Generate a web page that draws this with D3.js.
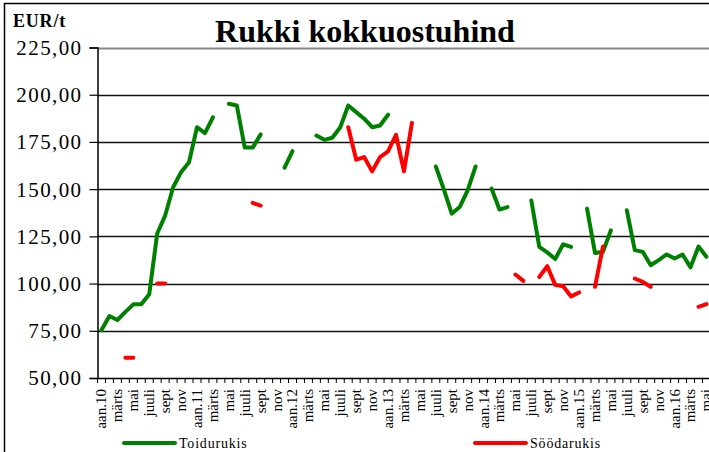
<!DOCTYPE html>
<html>
<head>
<meta charset="utf-8">
<script src="https://cdn.jsdelivr.net/npm/d3@7"></script>
<style>
  html, body { margin: 0; padding: 0; background: #fff; }
  svg { display: block; }
</style>
</head>
<body>
<script>
// ---- data ----
const monthNames = ["jaan", "veebr", "märts", "apr", "mai", "juuni", "juuli", "aug", "sept", "okt", "nov", "dets"];
const years = ["10", "11", "12", "13", "14", "15", "16"];
const categories = [];
years.forEach(yr => monthNames.forEach((m, k) => categories.push(k === 0 ? m + "." + yr : m)));
categories.splice(77); // visible months: jaan.10 … mai.16

const toidurukis = [
  75.4, 82.8, 80.7, 85.0, 89.0, 89.0, 94.4, 126.5, 136.0, 151.0, 159.0, 164.3,
  182.8, 179.7, 188.0, null, 195.2, 194.3, 172.0, 172.0, 179.0, null, null, 161.4,
  170.1, null, null, 178.4, 176.1, 177.2, 182.8, 194.3, 190.8, 187.3, 182.8, 183.7,
  189.4, null, null, null, null, null, 162.0, 150.0, 137.0, 140.5, 149.4, 162.0,
  null, 150.3, 139.2, 140.5, null, null, 144.0, 119.4, 116.5, 113.0, 120.8, 119.4,
  null, 139.7, 116.2, 116.8, 128.2, null, 138.8, 117.7, 116.8, 109.7, 112.4, 115.4,
  113.3, 115.4, 108.6, 119.6, 114.2
];
const soodarukis = [
  null, null, null, 60.7, 60.7, null, null, 100.0, 100.0, null, null, null,
  null, null, null, null, null, null, null, 142.7, 141.3, null, null, null,
  null, null, null, null, null, null, null, 182.8, 165.6, 167.0, 159.4, 167.0,
  170.0, 178.8, 159.4, 185.1, null, null, null, null, null, null, null, null,
  null, null, null, null, 104.8, 101.4, null, 103.5, 109.2, 99.3, 98.6, 93.2,
  95.3, null, 98.3, 119.6, null, null, null, 102.7, 100.9, 98.3, null, null,
  null, null, null, 87.7, 89.1
];
const yTicks = [50, 75, 100, 125, 150, 175, 200, 225];
const seriesNames = ["Toidurukis", "Söödarukis"];
const seriesColors = ["#008000", "#ff0000"];

// ---- layout ----
const W = 709, H = 452;
const plotLeft = 97.5, plotTop = 47.5, plotBottom = 378;
const step = 7.96;

const svg = d3.select("body").append("svg").attr("width", W).attr("height", H);

// frame
svg.append("rect").attr("x", 4.5).attr("y", 3.5).attr("width", W + 20).attr("height", H + 20)
  .attr("fill", "none").attr("stroke", "#000").attr("stroke-width", 1.5);

const x = d3.scaleBand().domain(d3.range(categories.length))
  .range([plotLeft, plotLeft + categories.length * step]).padding(0);
const cx = i => x(i) + x.bandwidth() / 2;
const y = d3.scaleLinear().domain([50, 225]).range([plotBottom, plotTop]);

// gridlines
svg.append("g").selectAll("line").data(yTicks.filter(t => t > 50)).join("line")
  .attr("x1", plotLeft).attr("x2", W + 10)
  .attr("y1", d => Math.round(y(d)) + 0.5).attr("y2", d => Math.round(y(d)) + 0.5)
  .attr("stroke", d => d === 225 ? "#888" : "#111")
  .attr("stroke-width", d => d === 225 ? 2 : 1.5);

// y axis
const yAxis = d3.axisLeft(y).tickValues(yTicks).tickSize(8).tickPadding(7)
  .tickFormat(d => d3.format(".2f")(d).replace(".", ","));
const gy = svg.append("g").attr("transform", `translate(${plotLeft},0)`).call(yAxis);
gy.select(".domain").attr("stroke", "#000").attr("stroke-width", 1.5);
gy.selectAll(".tick line").attr("stroke", "#000").attr("stroke-width", 1.2);
gy.selectAll(".tick text")
  .attr("font-family", "'Liberation Serif', 'Times New Roman', serif")
  .attr("font-size", 21).attr("letter-spacing", 1.4).attr("fill", "#000").attr("dy", "0.33em");

// x axis
const clip = svg.append("defs").append("clipPath").attr("id", "xclip");
clip.append("rect").attr("x", 0).attr("y", -400).attr("width", W).attr("height", 451);

const xAxis = d3.axisBottom(x).tickSize(0).tickFormat(i => i % 2 === 0 ? categories[i] : "");
const gx = svg.append("g").attr("transform", `translate(0,${plotBottom})`).call(xAxis);
gx.select(".domain").attr("stroke", "#000").attr("stroke-width", 1.5);
gx.attr("clip-path", "url(#xclip)");
gx.selectAll(".tick text")
  .attr("font-family", "'Liberation Serif', 'Times New Roman', serif")
  .attr("font-size", 15).attr("fill", "#000")
  .attr("text-anchor", "end")
  .attr("transform", "rotate(-90)")
  .attr("x", -11).attr("y", 0).attr("dy", "0.33em");
// monthly boundary ticks
gx.append("g").selectAll("line").data(d3.range(categories.length + 1)).join("line")
  .attr("x1", i => plotLeft + i * step).attr("x2", i => plotLeft + i * step)
  .attr("y1", 0).attr("y2", 5).attr("stroke", "#000").attr("stroke-width", 1);

// lines
const line = d3.line().defined(d => d.v != null).x(d => cx(d.i)).y(d => y(d.v));
[toidurukis, soodarukis].forEach((arr, k) => {
  svg.append("path").datum(arr.map((v, i) => ({ i, v })))
    .attr("d", line).attr("fill", "none")
    .attr("stroke", seriesColors[k]).attr("stroke-width", 4)
    .attr("stroke-linejoin", "round").attr("stroke-linecap", "round");
});

// title
svg.append("text").attr("x", 365).attr("y", 42).attr("text-anchor", "middle")
  .attr("font-family", "'Liberation Serif', 'Times New Roman', serif")
  .attr("font-weight", "bold").attr("font-size", 32).text("Rukki kokkuostuhind");

// unit label
svg.append("text").attr("x", 13).attr("y", 27)
  .attr("font-family", "'Liberation Serif', 'Times New Roman', serif")
  .attr("font-weight", "bold").attr("font-size", 18).attr("letter-spacing", 0.8).text("EUR/t");

// legend
const legendX = [124, 475];
seriesNames.forEach((name, k) => {
  const g = svg.append("g").attr("transform", `translate(${legendX[k]},443)`);
  g.append("line").attr("x1", 0).attr("x2", 51).attr("y1", 0).attr("y2", 0)
    .attr("stroke", seriesColors[k]).attr("stroke-width", 4).attr("stroke-linecap", "round");
  g.append("text").attr("x", 55).attr("y", 5)
    .attr("font-family", "'Liberation Serif', 'Times New Roman', serif")
    .attr("font-size", 14).attr("letter-spacing", 0.8).text(name);
});
</script>
</body>
</html>
